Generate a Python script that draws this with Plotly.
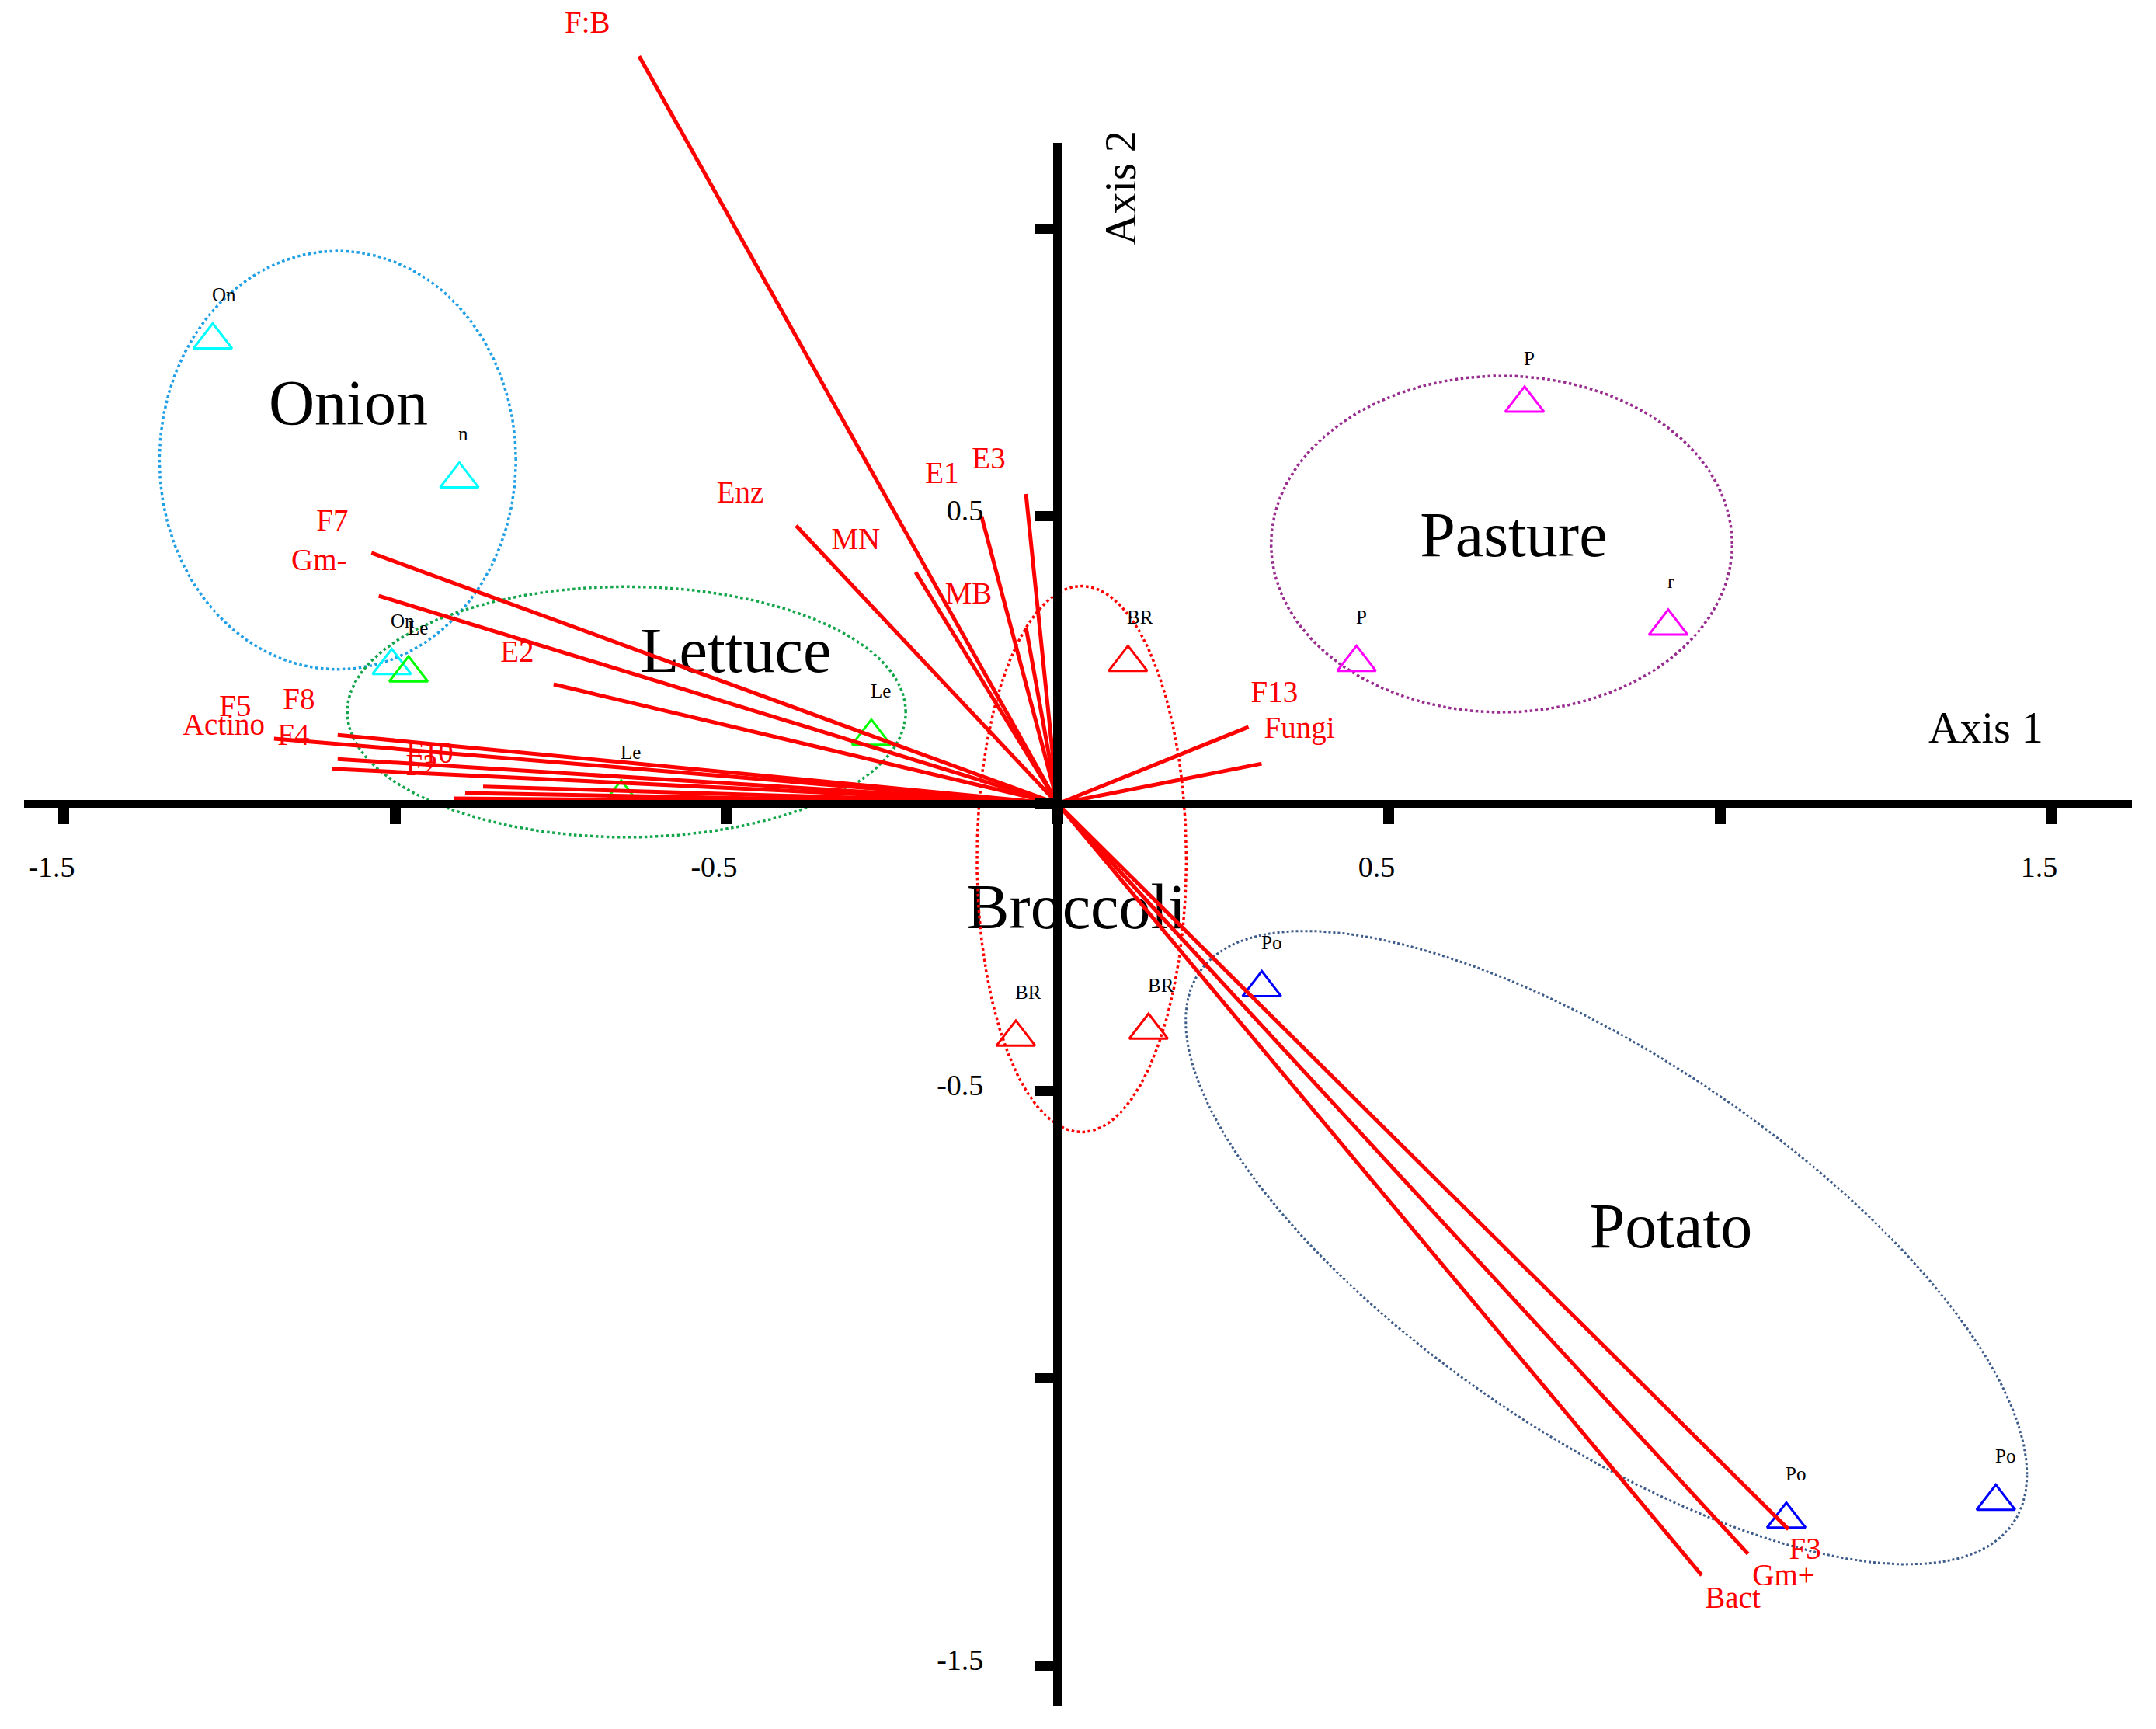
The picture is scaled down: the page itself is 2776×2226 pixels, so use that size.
import numpy as np
import plotly.graph_objects as go

# ---------------- data ----------------
# environmental / microbial vectors (tips; all start at the origin)
vec_names = ["F:B", "Enz", "MN", "E1", "E3", "MB", "F7", "Gm-", "E2",
             "F5", "F8", "Actino", "F4", "F10", "F2", "",
             "F13", "Fungi", "F3", "Gm+", "Bact"]
vec_x = [-0.632, -0.395, -0.2145, -0.115, -0.048, -0.048, -1.036, -1.025, -0.761,
         -1.183, -1.087, -1.087, -1.096, -0.8675, -0.8945, -0.911,
         0.288, 0.3077, 1.103, 1.042, 0.972]
vec_y = [1.301, 0.484, 0.403, 0.500, 0.539, 0.307, 0.4365, 0.362, 0.208,
         0.1135, 0.120, 0.078, 0.061, 0.030, 0.019, 0.0095,
         0.134, 0.070, -1.262, -1.305, -1.342]

# vector label positions
vlab_text = ["F:B", "Enz", "MN", "E1", "E3", "MB", "F7", "Gm-", "E2",
             "F5", "F8", "Actino", "F4", "F10", "F2",
             "F13", "Fungi", "F3", "Gm+", "Bact"]
vlab_x = [-0.710, -0.4795, -0.305, -0.1747, -0.1043, -0.1348, -1.095, -1.115, -0.816,
          -1.2415, -1.1454, -1.259, -1.1536, -0.948, -0.960,
          0.327, 0.3646, 1.128, 1.0957, 1.0188]
vlab_y = [1.355, 0.538, 0.457, 0.5716, 0.597, 0.362, 0.489, 0.420, 0.261,
          0.166, 0.178, 0.134, 0.116, 0.085, 0.0635,
          0.1905, 0.128, -1.301, -1.346, -1.385]

# sample sites
site_group = ["Onion", "Onion", "Onion",
              "Lettuce", "Lettuce", "Lettuce",
              "Broccoli", "Broccoli", "Broccoli",
              "Pasture", "Pasture", "Pasture",
              "Potato", "Potato", "Potato"]
site_x = [-1.2755, -0.9033, -1.0053,
          -0.980, -0.2814, -0.659,
          0.106, -0.0633, 0.137,
          0.7046, 0.451, 0.9215,
          0.308, 1.0997, 1.416]
site_y = [0.807, 0.565, 0.2405,
          0.2277, 0.1176, 0.012,
          0.246, -0.406, -0.394,
          0.697, 0.246, 0.309,
          -0.320, -1.2446, -1.2135]
site_label = ["On", "n", "On",
              "Le", "Le", "Le",
              "BR", "BR", "BR",
              "P", "P", "r",
              "Po", "Po", "Po"]

# groups: label position and confidence ellipses
groups = ["Onion", "Lettuce", "Broccoli", "Pasture", "Potato"]
group_label_x = [-1.071, -0.486, 0.028, 0.688, 0.9256]
group_label_y = [0.689, 0.2576, -0.188, 0.4586, -0.7445]
ell_cx = [-1.087, -0.651, 0.036, 0.670, 0.828]
ell_cy = [0.598, 0.160, -0.096, 0.452, -0.772]
ell_hw = [0.269, 0.4215, 0.158, 0.348, 0.635]
ell_hh = [0.364, 0.218, 0.475, 0.2926, 0.551]
ell_rho = [0.0, 0.0, 0.0, 0.0, -0.716]

# axis ticks
x_tick_vals = [-1.5, -1.0, -0.5, 0.0, 0.5, 1.0, 1.5]
x_tick_text = ["-1.5", "", "-0.5", "", "0.5", "", "1.5"]
y_tick_vals = [-1.5, -1.0, -0.5, 0.0, 0.5, 1.0]
y_tick_text = ["-1.5", "", "-0.5", "", "0.5", ""]

# ---------------- styling ----------------
SERIF = "Liberation Serif"
site_colors = {"Onion": "#00FFFF", "Lettuce": "#00FF00", "Broccoli": "#FF0000",
               "Pasture": "#FF00FF", "Potato": "#0000FF"}
ell_colors = ["#1F9FE5", "#12A54A", "#FF0000", "#992D8F", "#3E5C8A"]
ell_widths = [3.5, 3.5, 3.5, 3.5, 3]

X_RANGE = [-1.5873, 1.6671]
Y_RANGE = [-1.6203, 1.3878]
AX_X_RANGE = [-1.560, 1.621]
AX_Y_RANGE = [-1.569, 1.150]


def frac(v, r):
    return (v - r[0]) / (r[1] - r[0])


fig = go.Figure()

# big group names (below everything)
fig.add_trace(go.Scatter(
    x=group_label_x, y=group_label_y, text=groups, mode="text",
    textposition="middle center",
    textfont=dict(family=SERIF, size=82, color="black"),
    hoverinfo="skip", showlegend=False))

# dotted group ellipses
t = np.linspace(0, 2 * np.pi, 361)
for i, g in enumerate(groups):
    ex = ell_cx[i] + ell_hw[i] * np.cos(t)
    ey = ell_cy[i] + ell_hh[i] * (ell_rho[i] * np.cos(t)
                                  + np.sqrt(1 - ell_rho[i] ** 2) * np.sin(t))
    fig.add_trace(go.Scatter(
        x=ex, y=ey, mode="lines",
        line=dict(color=ell_colors[i], width=ell_widths[i], dash="dot"),
        hoverinfo="skip", showlegend=False))

# site triangles
for g in groups:
    xs = [x for x, gg in zip(site_x, site_group) if gg == g]
    ys = [y for y, gg in zip(site_y, site_group) if gg == g]
    fig.add_trace(go.Scatter(
        x=xs, y=ys, mode="markers", name=g,
        marker=dict(symbol="triangle-up-open", size=43, color=site_colors[g],
                    line=dict(width=3, color=site_colors[g])),
        hoverinfo="skip", showlegend=False))

# vectors
vx, vy = [], []
for x, y in zip(vec_x, vec_y):
    vx += [0, x, None]
    vy += [0, y, None]
fig.add_trace(go.Scatter(
    x=vx, y=vy, mode="lines", line=dict(color="#FF0000", width=5),
    hoverinfo="skip", showlegend=False))

# vector labels
fig.add_trace(go.Scatter(
    x=vlab_x, y=vlab_y, text=vlab_text, mode="text",
    textposition="middle center",
    textfont=dict(family=SERIF, size=39, color="#FF0000"),
    hoverinfo="skip", showlegend=False))

# dummy trace to create the crossing-axes subplot
fig.add_trace(go.Scatter(
    x=[0], y=[0], xaxis="x2", yaxis="y2", mode="markers",
    marker=dict(opacity=0), hoverinfo="skip", showlegend=False))

annotations = []
for x, y, s in zip(site_x, site_y, site_label):
    annotations.append(dict(
        x=x, y=y, xref="x", yref="y", text=s, showarrow=False,
        xanchor="left", yanchor="middle", xshift=-3, yshift=58,
        font=dict(family=SERIF, size=25, color="black")))
annotations.append(dict(
    x=1.401, y=0.132, xref="x", yref="y", text="Axis 1", showarrow=False,
    xanchor="center", yanchor="middle",
    font=dict(family=SERIF, size=56, color="black")))
annotations.append(dict(
    x=0.095, y=1.0716, xref="x", yref="y", text="Axis 2", showarrow=False,
    xanchor="center", yanchor="middle", textangle=-90,
    font=dict(family=SERIF, size=56, color="black")))

fig.update_layout(
    width=2776, height=2226, autosize=False,
    margin=dict(l=0, r=0, t=0, b=0, pad=0),
    paper_bgcolor="white", plot_bgcolor="rgba(0,0,0,0)",
    showlegend=False, hovermode=False,
    xaxis=dict(range=X_RANGE, domain=[0, 1], visible=False, fixedrange=True),
    yaxis=dict(range=Y_RANGE, domain=[0, 1], visible=False, fixedrange=True),
    xaxis2=dict(
        range=AX_X_RANGE,
        domain=[frac(AX_X_RANGE[0], X_RANGE), frac(AX_X_RANGE[1], X_RANGE)],
        anchor="free", position=frac(0, Y_RANGE), side="bottom",
        showline=True, linewidth=10, linecolor="black",
        ticks="outside", ticklen=21, tickwidth=14, tickcolor="black",
        tickmode="array", tickvals=x_tick_vals, ticktext=x_tick_text,
        tickfont=dict(family=SERIF, size=38, color="black"),
        ticklabelstandoff=22, ticklabelshift=-16,
        showgrid=False, zeroline=False, layer="above traces", fixedrange=True),
    yaxis2=dict(
        range=AX_Y_RANGE,
        domain=[frac(AX_Y_RANGE[0], Y_RANGE), frac(AX_Y_RANGE[1], Y_RANGE)],
        anchor="free", position=frac(0, X_RANGE), side="left",
        showline=True, linewidth=12, linecolor="black",
        ticks="outside", ticklen=23, tickwidth=13, tickcolor="black",
        tickmode="array", tickvals=y_tick_vals, ticktext=y_tick_text,
        tickfont=dict(family=SERIF, size=38, color="black"),
        ticklabelstandoff=59, ticklabelshift=-8,
        showgrid=False, zeroline=False, layer="above traces", fixedrange=True),
    annotations=annotations,
)

fig.write_html("out.html")
